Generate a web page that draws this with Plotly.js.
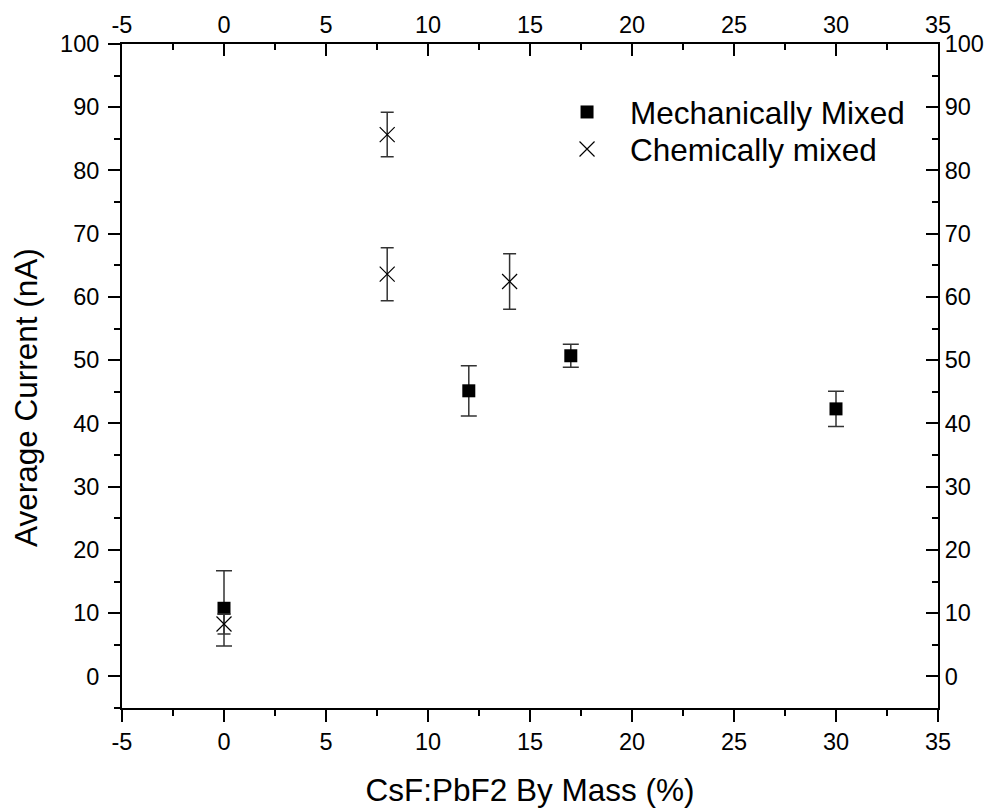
<!DOCTYPE html>
<html>
<head>
<meta charset="utf-8">
<script src="https://cdn.plot.ly/plotly-3.0.1.min.js"></script>
<style>html,body{margin:0;padding:0;background:#fff;}#chart{width:997px;height:808px;}</style>
</head>
<body>
<div id="chart"></div>
<script>
// Mechanically Mixed
const mechX = [0, 12, 17, 30];
const mechY = [10.77, 45.16, 50.7, 42.3];
const mechErr = [5.95, 3.98, 1.82, 2.77];
// Chemically mixed
const chemX = [0, 8, 8, 14];
const chemY = [8.29, 85.68, 63.6, 62.44];
const chemErr = [1.58, 3.51, 4.19, 4.40];

const xRange = [-5, 35];
const yRange = [-5, 100];
const xTicks = [-5, 0, 5, 10, 15, 20, 25, 30, 35];
const xTickText = ['-5', '0', '5', '10', '15', '20', '25', '30', '35'];
const yTicks = [0, 10, 20, 30, 40, 50, 60, 70, 80, 90, 100];
const xTitle = 'CsF:PbF2 By Mass (%)';
const yTitle = 'Average Current (nA)';

const FONT = 'Arial, "Liberation Sans", sans-serif';

const traces = [
  {
    x: mechX, y: mechY, type: 'scatter', mode: 'markers', name: 'Mechanically Mixed',
    legend: 'legend',
    marker: {symbol: 'square', size: 13, color: '#000'},
    error_y: {type: 'data', array: mechErr, visible: true, color: '#333', thickness: 1.5, width: 8}
  },
  {
    x: chemX, y: chemY, type: 'scatter', mode: 'markers', name: 'Chemically mixed',
    legend: 'legend2',
    marker: {symbol: 'x-thin-open', size: 15, color: '#000', line: {width: 1.2, color: '#000'}},
    error_y: {type: 'data', array: chemErr, visible: true, color: '#333', thickness: 1.5, width: 6.5}
  },
  {
    // empty trace so the mirrored top/right axes are drawn
    x: [], y: [], type: 'scatter', mode: 'markers', xaxis: 'x2', yaxis: 'y2',
    showlegend: false, hoverinfo: 'skip'
  }
];

const axBase = {
  showgrid: false, zeroline: false, showline: true, linecolor: '#000', linewidth: 2,
  tickcolor: '#000', tickwidth: 2, ticklen: 12,
  tickfont: {family: FONT, size: 23.5, color: '#000'}, mirror: false
};

const legBase = {
  xanchor: 'left', yanchor: 'middle',
  font: {family: FONT, size: 31.5, color: '#000'},
  bgcolor: 'rgba(0,0,0,0)', itemwidth: 76
};

const layout = {
  width: 997, height: 808,
  margin: {l: 122, r: 59, t: 44, b: 100},
  paper_bgcolor: '#fff', plot_bgcolor: '#fff',
  font: {family: FONT, color: '#000'},
  showlegend: true,
  legend: Object.assign({}, legBase, {x: 0.5172, y: 0.8976}),
  legend2: Object.assign({}, legBase, {x: 0.5172, y: 0.8419}),
  xaxis: Object.assign({}, axBase, {
    range: xRange, tickmode: 'array', tickvals: xTicks, ticktext: xTickText, ticks: 'outside',
    minor: {dtick: 2.5, ticklen: 6, tickwidth: 2, tickcolor: '#000', ticks: 'outside', showgrid: false},
    title: {text: xTitle, font: {family: FONT, size: 31.5, color: '#000'}, standoff: 26}
  }),
  yaxis: Object.assign({}, axBase, {
    range: yRange, tickmode: 'array', tickvals: yTicks, ticks: 'outside', ticklabelstandoff: 4,
    minor: {dtick: 5, ticklen: 6, tickwidth: 2, tickcolor: '#000', ticks: 'outside', showgrid: false}
  }),
  xaxis2: Object.assign({}, axBase, {
    range: xRange, tickmode: 'array', tickvals: xTicks, ticktext: xTickText, ticks: 'inside',
    overlaying: 'x', side: 'top', anchor: 'y2',
    minor: {dtick: 2.5, ticklen: 6, tickwidth: 2, tickcolor: '#000', ticks: 'inside', showgrid: false}
  }),
  yaxis2: Object.assign({}, axBase, {
    range: yRange, tickmode: 'array', tickvals: yTicks, ticks: 'inside',
    overlaying: 'y', side: 'right', anchor: 'x2',
    minor: {dtick: 5, ticklen: 6, tickwidth: 2, tickcolor: '#000', ticks: 'inside', showgrid: false}
  }),
  annotations: [{
    text: yTitle, textangle: -90, showarrow: false,
    xref: 'paper', yref: 'paper', x: -0.1176, y: 0.4669, xanchor: 'center', yanchor: 'middle',
    font: {family: FONT, size: 31.5, color: '#000'}
  }]
};

Plotly.newPlot('chart', traces, layout, {displayModeBar: false, staticPlot: true});
</script>
</body>
</html>
